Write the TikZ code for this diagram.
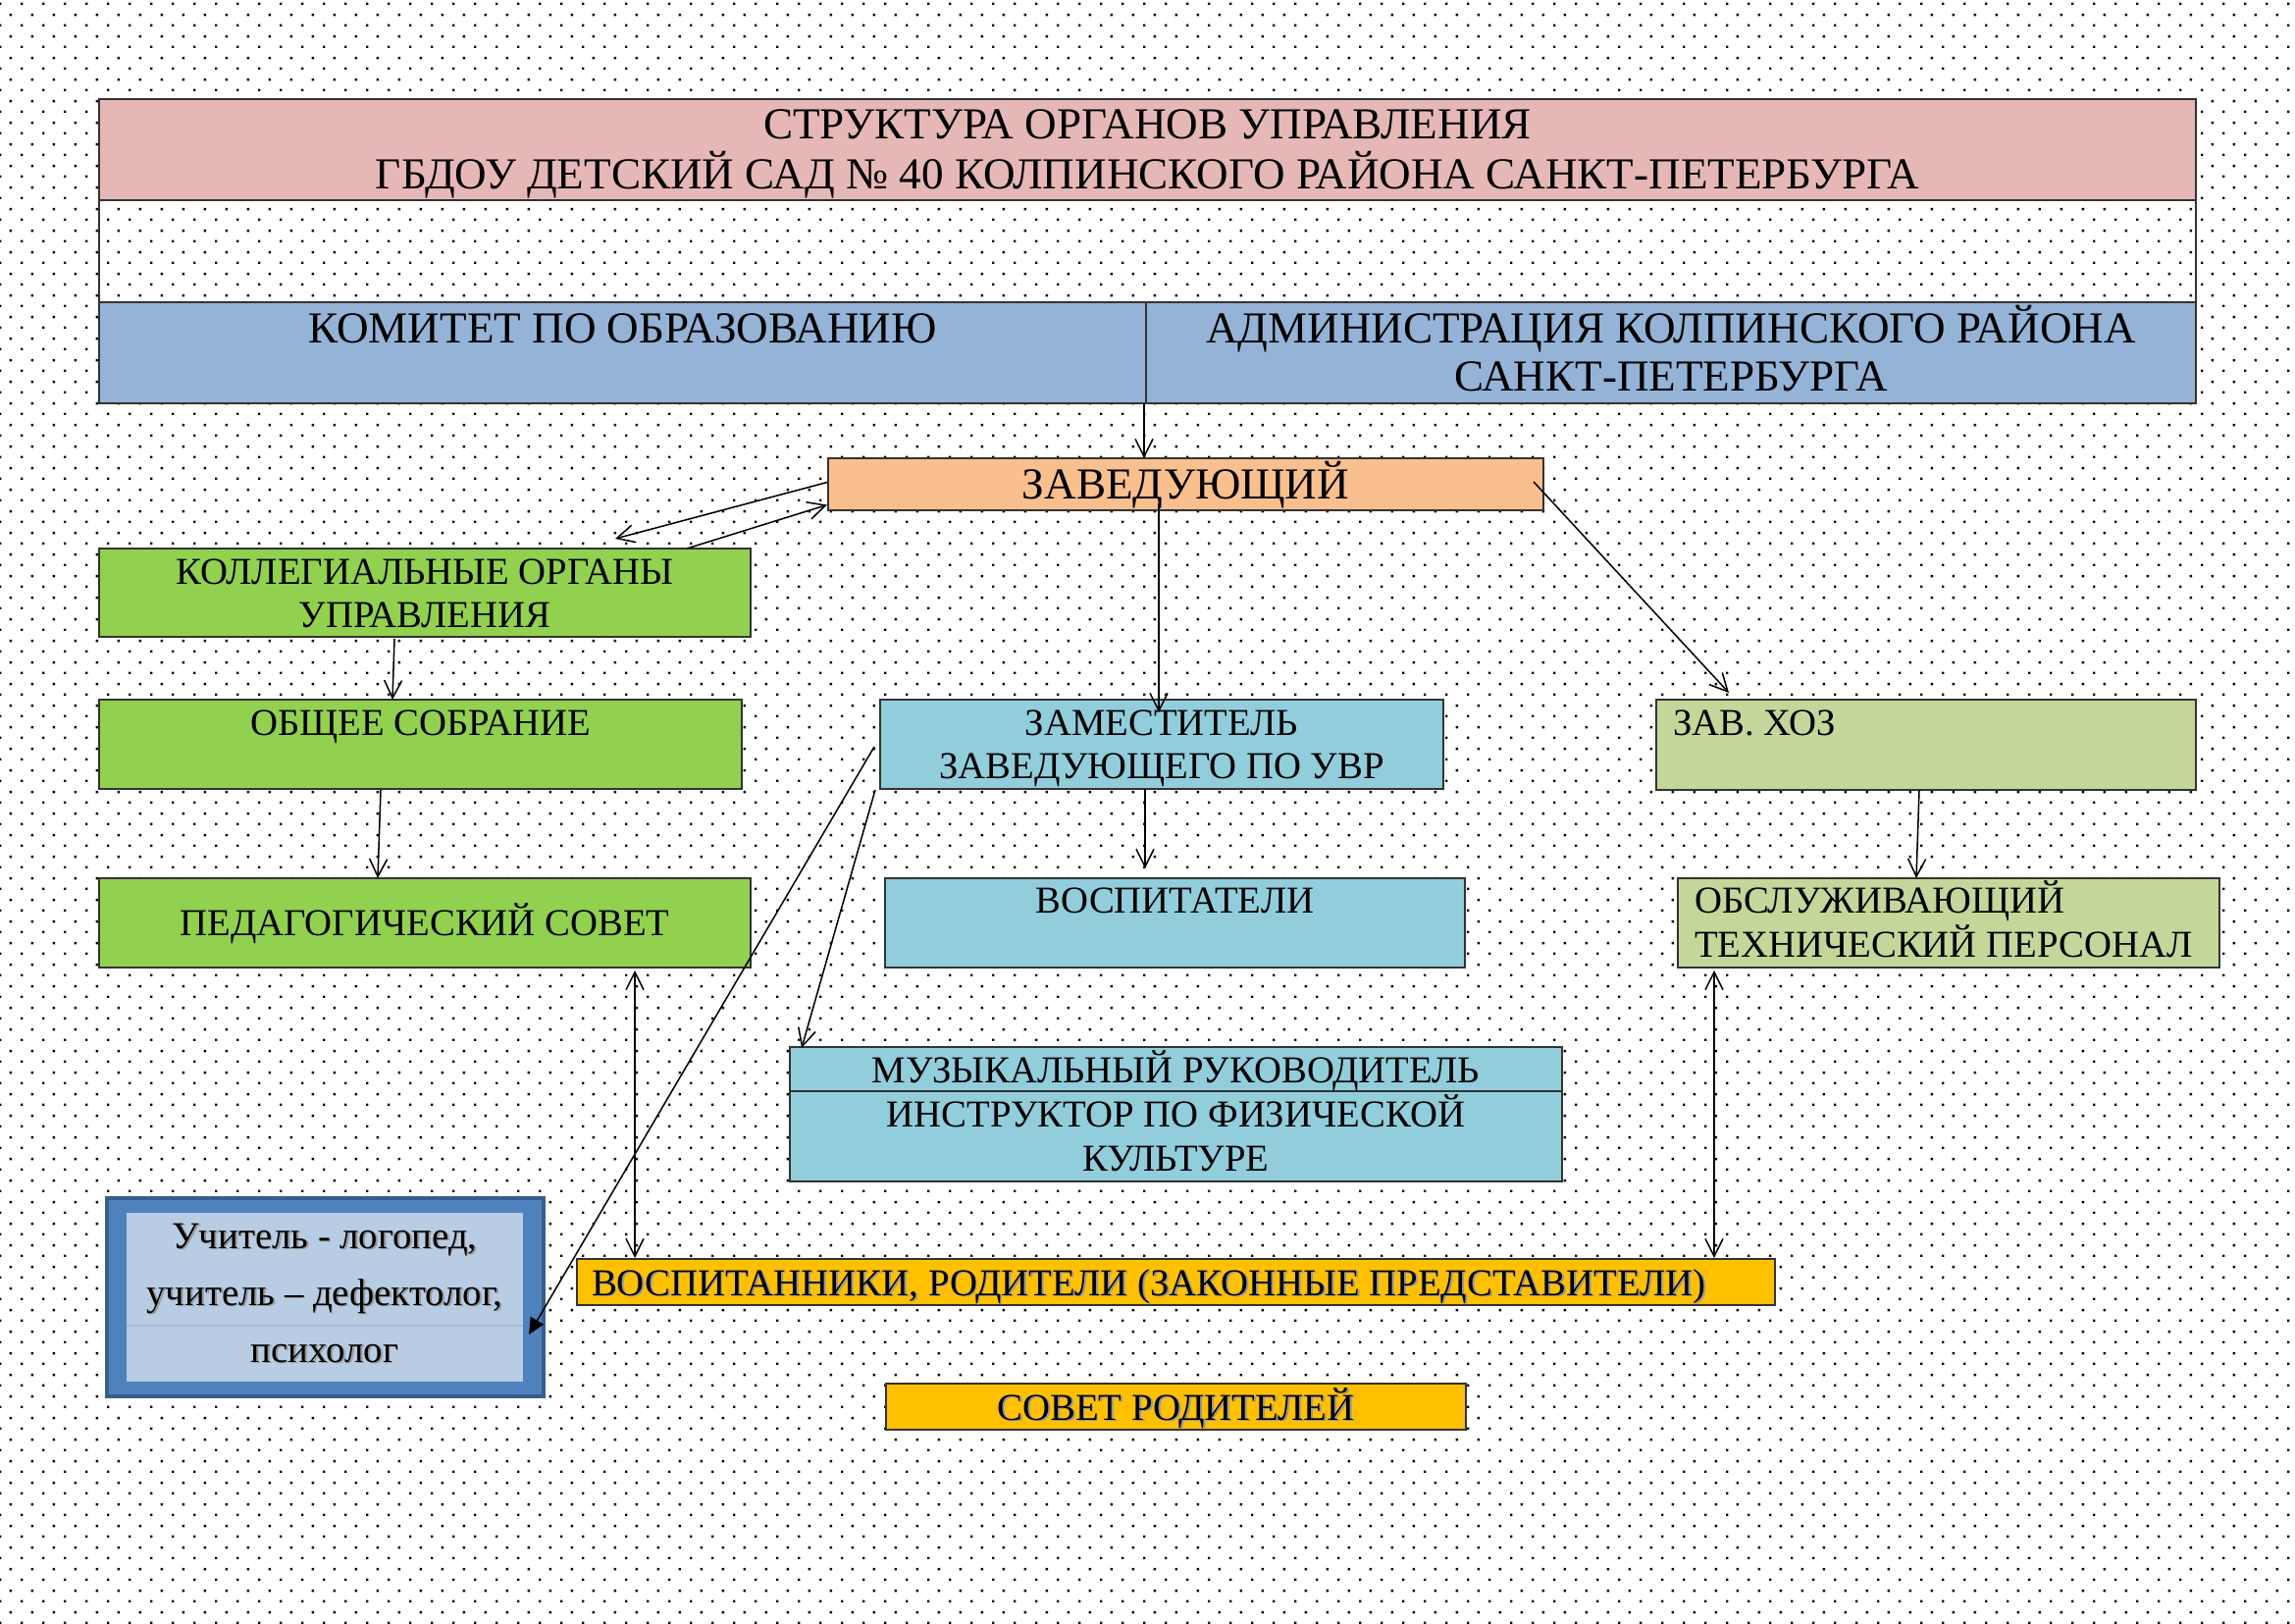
\documentclass[tikz,border=0pt]{standalone}
\usepackage{fontspec}
\setmainfont{Liberation Serif}
\usetikzlibrary{arrows.meta,patterns.meta}
\newdimen\pxu \pxu=0.012698cm

\tikzdeclarepattern{
  name=bgdots,
  type=uncolored,
  bounding box={(0,0) and (0.2794cm,0.2794cm)},
  tile size={(0.2794cm,0.2794cm)},
  code={
    \pgfpathrectangle{\pgfpoint{0cm}{0cm}}{\pgfpoint{0.033cm}{0.033cm}}
    \pgfpathrectangle{\pgfpoint{0.1397cm}{0.1397cm}}{\pgfpoint{0.033cm}{0.033cm}}
    \pgfusepath{fill}
  }
}

\definecolor{cTitle}{HTML}{E5B8B7}
\definecolor{cBlue}{HTML}{95B3D7}
\definecolor{cZav}{HTML}{FABF8F}
\definecolor{cGreen}{HTML}{92D050}
\definecolor{cTeal}{HTML}{92CDDC}
\definecolor{cOlive}{HTML}{C4D79B}
\definecolor{cGold}{HTML}{FFC000}
\definecolor{cUchBand}{HTML}{4F81BD}
\definecolor{cUchIn}{HTML}{B8CCE4}
\definecolor{cUchEdge}{HTML}{385D8A}
\definecolor{cUchLine}{HTML}{A7BCD9}

\newcommand\fbig{\fontsize{16.3}{18.7}\selectfont}
\newcommand\fnorm{\fontsize{14}{16.1}\selectfont}

\tikzset{
  box/.style={draw=black!80, line width=0.6pt, inner sep=0pt, outer sep=0pt},
  txt/.style={inner sep=0pt, outer sep=0pt, anchor=base, text=black, font=\fnorm},
  shadowtxt/.style={txt, text=black!40},
  barb/.tip={Straight Barb[length=6.5pt,width=6.5pt]},
  arr/.style={draw=black, line width=0.55pt, -barb},
  darr/.style={draw=black, line width=0.55pt, barb-barb},
  farr/.style={draw=black, line width=0.55pt, -{Triangle[length=6pt,width=5.5pt]}},
}

% name, x1, y1, x2, y2, style
\newcommand\mkbox[6]{\node[box,#6,minimum width={(#4-#2)*\pxu},minimum height={(#5-#3)*\pxu}] (#1) at ({(#2+#4)/2},{(#3+#5)/2}) {};}
% name, style, x, y, text
\newcommand\tl[5]{\node[txt,#2] (#1) at (#3,#4) {#5};}
% shadowed text: name, style, x, y, text
\newcommand\stl[5]{\node[shadowtxt,#2] (#1s) at ({#3+1.8},{#4+1.8}) {#5};\node[txt,#2] (#1) at (#3,#4) {#5};}

\begin{document}
\begin{tikzpicture}[x=\pxu, y=-\pxu]
\useasboundingbox (0,0) rectangle (2339,1654);
\fill[white] (0,0) rectangle (2339,1654);
\fill[pattern=bgdots, pattern color=black] (0,0) rectangle (2339,1654);

% header table
\mkbox{title}{101}{101}{2238}{204}{fill=cTitle}
\mkbox{blank}{101}{204}{2238}{308}{}
\mkbox{kom}{101}{308}{1168}{411}{fill=cBlue}
\mkbox{adm}{1168}{308}{2238}{411}{fill=cBlue}

\tl{t1}{font=\fbig}{1169.5}{142}{СТРУКТУРА ОРГАНОВ УПРАВЛЕНИЯ}
\tl{t2}{font=\fbig}{1169.5}{193}{ГБДОУ ДЕТСКИЙ САД № 40 КОЛПИНСКОГО РАЙОНА САНКТ-ПЕТЕРБУРГА}
\tl{tkom}{font=\fbig}{634.5}{350}{КОМИТЕТ ПО ОБРАЗОВАНИЮ}
\tl{tadm1}{font=\fbig}{1703}{350}{АДМИНИСТРАЦИЯ КОЛПИНСКОГО РАЙОНА}
\tl{tadm2}{font=\fbig}{1703}{399}{САНКТ-ПЕТЕРБУРГА}

% head
\mkbox{zav}{844}{467}{1573}{520}{fill=cZav}
\tl{tzav}{font=\fbig}{1208.5}{508}{ЗАВЕДУЮЩИЙ}

% left column
\mkbox{koll}{101}{559}{765}{649}{fill=cGreen}
\tl{tkoll1}{}{433}{595}{КОЛЛЕГИАЛЬНЫЕ ОРГАНЫ}
\tl{tkoll2}{}{433}{639}{УПРАВЛЕНИЯ}
\mkbox{obsh}{101}{713}{756}{804}{fill=cGreen}
\tl{tobsh}{}{428.5}{749}{ОБЩЕЕ СОБРАНИЕ}
\mkbox{ped}{101}{895}{765}{986}{fill=cGreen}
\tl{tped}{}{433}{953}{ПЕДАГОГИЧЕСКИЙ СОВЕТ}

% middle column
\mkbox{zam}{897}{713}{1471}{804}{fill=cTeal}
\tl{tzam1}{}{1184}{749}{ЗАМЕСТИТЕЛЬ}
\tl{tzam2}{}{1184}{793.5}{ЗАВЕДУЮЩЕГО ПО УВР}
\mkbox{vosp}{902}{895}{1493}{986}{fill=cTeal}
\tl{tvosp}{}{1197.5}{930.5}{ВОСПИТАТЕЛИ}
\mkbox{muz}{805}{1067}{1592}{1204}{fill=cTeal}
\draw[draw=black!80, line width=0.6pt] ([shift={(0,45)}]muz.north west) -- ([shift={(0,45)}]muz.north east);
\tl{tmuz1}{}{1198.5}{1103}{МУЗЫКАЛЬНЫЙ РУКОВОДИТЕЛЬ}
\tl{tmuz2}{}{1198.5}{1148.5}{ИНСТРУКТОР ПО ФИЗИЧЕСКОЙ}
\tl{tmuz3}{}{1198.5}{1193.5}{КУЛЬТУРЕ}

% right column
\mkbox{zavhoz}{1688}{713}{2238}{805}{fill=cOlive}
\tl{tzavhoz}{anchor=base west}{1705}{749}{ЗАВ. ХОЗ}
\mkbox{obsl}{1710}{895}{2262}{986}{fill=cOlive}
\tl{tobsl1}{anchor=base west}{1727}{930.5}{ОБСЛУЖИВАЮЩИЙ}
\tl{tobsl2}{anchor=base west}{1727}{975}{ТЕХНИЧЕСКИЙ ПЕРСОНАЛ}

% bottom
\mkbox{uch}{109}{1221}{554}{1423}{fill=cUchBand, draw=cUchEdge, line width=1.4pt}
\mkbox{uchin}{129}{1236}{533}{1408}{fill=cUchIn, draw=none}
\draw[cUchLine, line width=0.4pt] ([shift={(0,115)}]uchin.north west) -- ([shift={(0,115)}]uchin.north east);
\stl{tuch1}{}{331}{1272}{Учитель - логопед,}
\stl{tuch2}{}{331}{1330}{учитель – дефектолог,}
\stl{tuch3}{}{331}{1388}{психолог}

\mkbox{vospit}{588}{1283}{1809}{1330}{fill=cGold}
\stl{tvospit}{anchor=base west}{603}{1320}{ВОСПИТАННИКИ, РОДИТЕЛИ (ЗАКОННЫЕ ПРЕДСТАВИТЕЛИ)}
\mkbox{sovet}{903}{1410}{1494}{1457}{fill=cGold}
\stl{tsovet}{}{1198.5}{1447}{СОВЕТ РОДИТЕЛЕЙ}

% connectors
\draw[arr] ([shift={(-2,0)}]kom.south east) -- ([shift={(-2,0)}]adm.south west |- zav.north);
\draw[arr] ([shift={(-1,-2)}]zav.west) -- ([shift={(-138,-10)}]koll.north east);
\draw[arr] ([shift={(-65,0)}]koll.north east) -- ([shift={(-1,21)}]zav.west);
\draw[arr] ([shift={(337,-7)}]zav.south west) -- ([shift={(284,13)}]zam.north west);
\draw[arr] ([shift={(-10,-2.5)}]zav.east) -- ([shift={(74,-7)}]zavhoz.north west);
\draw[arr] ([shift={(301,2)}]koll.south west) -- ([shift={(299,0)}]obsh.north west);
\draw[arr] ([shift={(287,1)}]obsh.south west) -- ([shift={(284,0)}]ped.north west);
\draw[arr] ([shift={(270,0)}]zam.south west) -- ([shift={(265,-10)}]vosp.north west);
\draw[arr] ([shift={(268,0)}]zavhoz.south west) -- ([shift={(243,0)}]obsl.north west);
\draw[arr] ([shift={(-5,1)}]zam.south west) -- ([shift={(12,1)}]muz.north west);
\draw[farr] ([shift={(-6,2.5)}]zam.west) -- ([shift={(-15,38)}]uch.east);
\draw[darr] ([shift={(546,3)}]ped.south west) -- ([shift={(59,-1)}]vospit.north west);
\draw[darr] ([shift={(37,3)}]obsl.south west) -- ([shift={(-62,-1)}]vospit.north east);
\end{tikzpicture}
\end{document}
